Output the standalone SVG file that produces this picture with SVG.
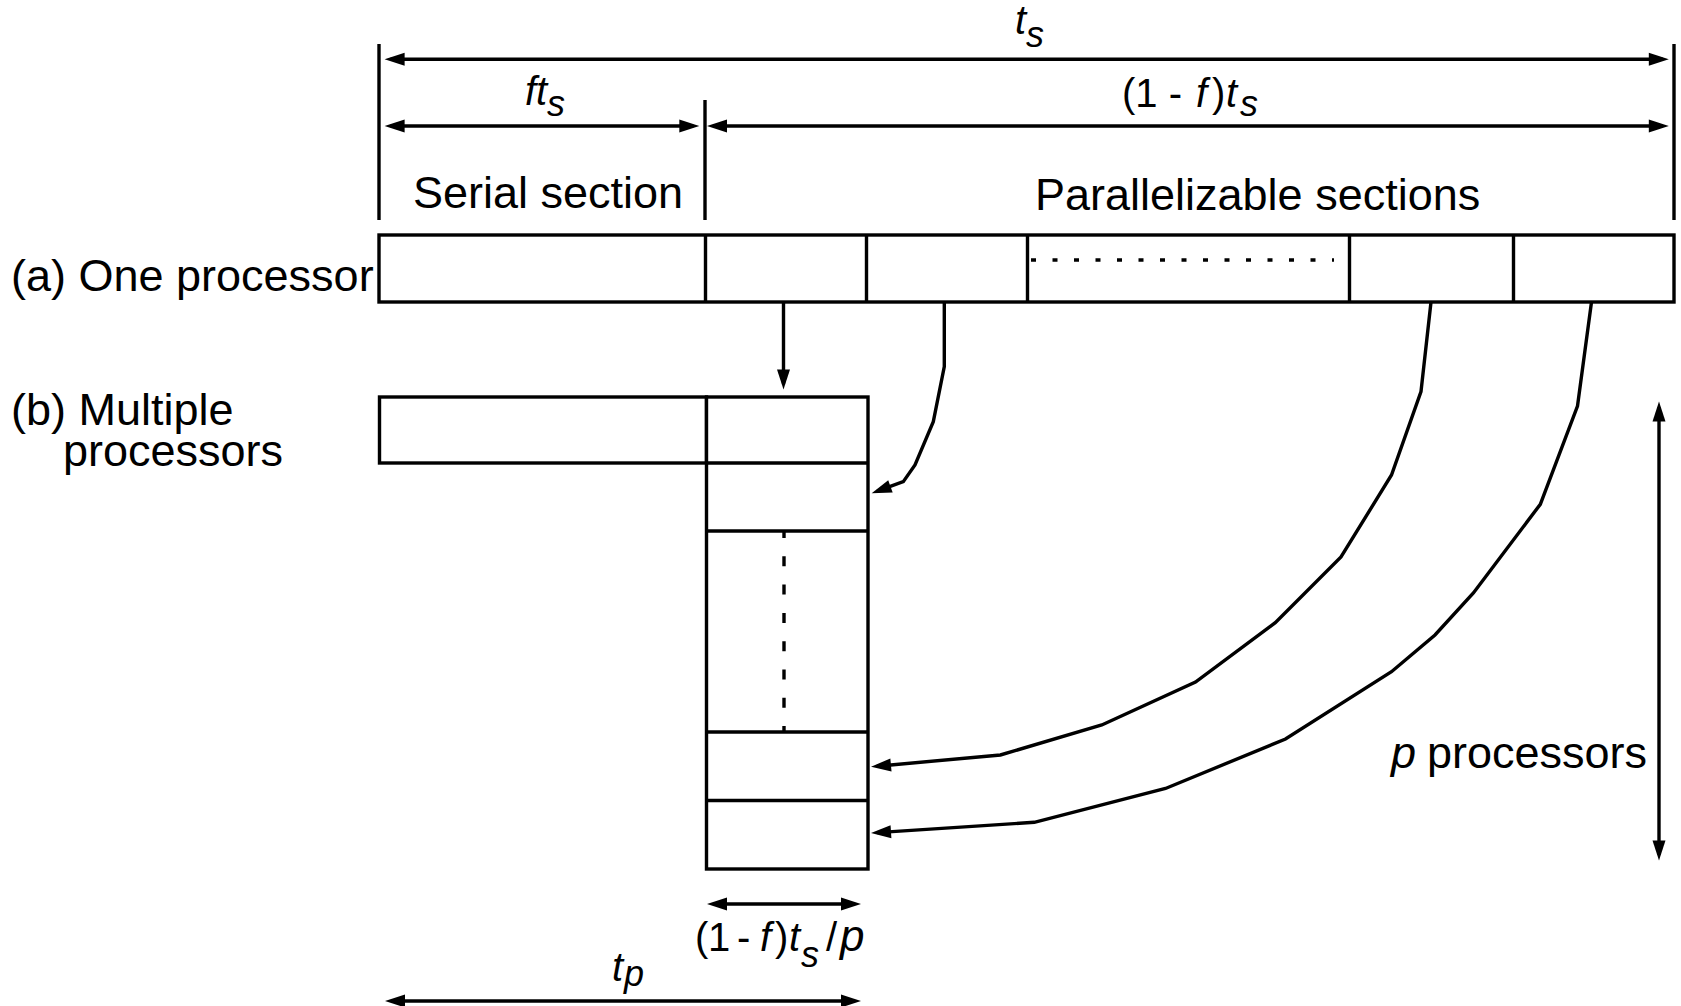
<svg xmlns="http://www.w3.org/2000/svg" width="1681" height="1006" viewBox="0 0 1681 1006">
<style>
  .ln{fill:none;stroke:#000;stroke-width:3.4;stroke-linejoin:miter}
  .bx{fill:#fff;stroke:#000;stroke-width:3.4}
  .t{font-family:"Liberation Sans",Arial,Helvetica,sans-serif;font-size:45px;fill:#000}
  .m{font-family:"Liberation Sans",Arial,Helvetica,sans-serif;font-size:40px;fill:#000}
  .i{font-style:italic}
  .sub{font-size:36px;font-style:italic}
</style>
<defs>
  <marker id="ah" markerUnits="userSpaceOnUse" markerWidth="30" markerHeight="20" refX="0" refY="0" orient="auto-start-reverse" overflow="visible" viewBox="-20 -10 30 20">
    <path d="M6,0 L-14,-6.5 L-14,6.5 Z" fill="#000"/>
  </marker>
</defs>
<rect width="1681" height="1006" fill="#fff"/>

<g id="dimensions">
  <line class="ln" x1="379" y1="44" x2="379" y2="220"/>
  <line class="ln" x1="1674" y1="44" x2="1674" y2="220"/>
  <line class="ln" x1="705" y1="100" x2="705" y2="220"/>
  <line class="ln" x1="390.6" y1="59.3" x2="1662.8" y2="59.3" marker-start="url(#ah)" marker-end="url(#ah)"/>
  <line class="ln" x1="390.6" y1="126" x2="693.3" y2="126" marker-start="url(#ah)" marker-end="url(#ah)"/>
  <line class="ln" x1="713" y1="126" x2="1662.8" y2="126" marker-start="url(#ah)" marker-end="url(#ah)"/>
  <line class="ln" x1="713" y1="904" x2="855" y2="904" marker-start="url(#ah)" marker-end="url(#ah)"/>
  <line class="ln" x1="391" y1="1001" x2="855" y2="1001" marker-start="url(#ah)" marker-end="url(#ah)"/>
  <line class="ln" x1="1659" y1="407.5" x2="1659" y2="854.5" marker-start="url(#ah)" marker-end="url(#ah)"/>
</g>

<g id="one-processor">
  <rect class="bx" x="379" y="235" width="1295" height="67"/>
  <line class="ln" x1="705.5" y1="235" x2="705.5" y2="302"/>
  <line class="ln" x1="866.5" y1="235" x2="866.5" y2="302"/>
  <line class="ln" x1="1027.5" y1="235" x2="1027.5" y2="302"/>
  <line class="ln" x1="1349.5" y1="235" x2="1349.5" y2="302"/>
  <line class="ln" x1="1513.5" y1="235" x2="1513.5" y2="302"/>
  <line class="ln" x1="1031" y1="260" x2="1334" y2="260" stroke-dasharray="5 16.5"/>
</g>

<g id="multiple-processors">
  <rect class="bx" x="379.5" y="397" width="327" height="66"/>
  <rect class="bx" x="706.5" y="397" width="161.5" height="472"/>
  <line class="ln" x1="706.5" y1="463" x2="868" y2="463"/>
  <line class="ln" x1="706.5" y1="531" x2="868" y2="531"/>
  <line class="ln" x1="706.5" y1="732" x2="868" y2="732"/>
  <line class="ln" x1="706.5" y1="800.5" x2="868" y2="800.5"/>
  <line class="ln" x1="784" y1="531" x2="784" y2="732" stroke-dasharray="10 18.3" stroke-dashoffset="3"/>
</g>

<g id="connectors">
  <line class="ln" x1="783.5" y1="302" x2="783.5" y2="383.5" marker-end="url(#ah)"/>
  <polyline class="ln" points="944.3,302 944.3,366.7 933.3,421.7 915,465 903.3,481.7 877.3,491.2" marker-end="url(#ah)"/>
  <polyline class="ln" points="1431,302 1421,391.5 1391.5,475 1341,557 1275.3,622.6 1195.5,682 1101.8,725 1000.4,755 877,766.2" marker-end="url(#ah)"/>
  <polyline class="ln" points="1591.5,302 1577.5,406 1540.3,504.3 1473.4,593 1435,635 1391.5,671.7 1285.5,739 1165.5,788.5 1034.3,822.3 877,832.6" marker-end="url(#ah)"/>
</g>

<g id="labels">
  <text class="m i" x="1015" y="34">t<tspan class="sub" x="1026" y="47">s</tspan></text>
  <text class="m i" x="525" y="105">ft<tspan class="sub" x="547" y="116">s</tspan></text>
  <text class="m" x="1122" y="107">(1 - <tspan class="i" x="1196">f</tspan><tspan x="1212">)</tspan><tspan class="i" x="1226">t</tspan><tspan class="sub" x="1240" y="116">s</tspan></text>
  <text class="t" x="413" y="208">Serial section</text>
  <text class="t" x="1035" y="210">Parallelizable sections</text>
  <text class="t" x="11" y="291">(a) One processor</text>
  <text class="t" x="11" y="425">(b) Multiple<tspan x="63" y="466">processors</tspan></text>
  <text class="t" x="1391" y="768"><tspan class="i">p</tspan><tspan x="1427">processors</tspan></text>
  <text class="m" x="695" y="951" font-size="42">(<tspan x="708">1</tspan><tspan x="737">-</tspan><tspan class="i" x="760">f</tspan><tspan x="775">)</tspan><tspan class="i" x="789">t</tspan><tspan class="sub" x="801" y="967" font-size="38">s</tspan><tspan x="826" y="951">/</tspan><tspan class="i" x="840" font-size="44">p</tspan></text>
  <text class="m i" x="612" y="981">t<tspan class="sub" x="624" y="986">p</tspan></text>
</g>
</svg>
